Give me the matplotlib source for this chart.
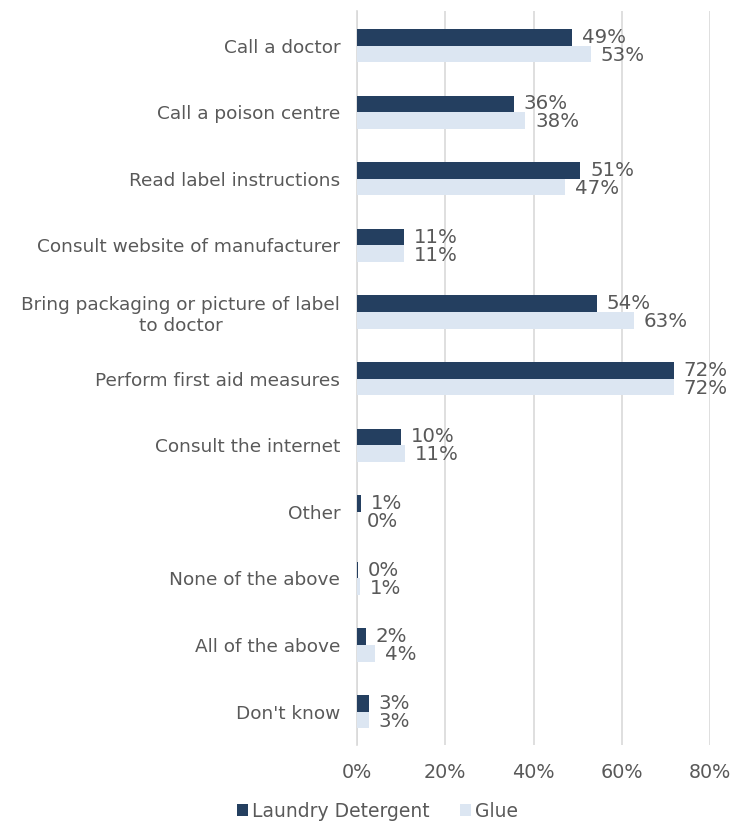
import matplotlib
matplotlib.use("Agg")
import matplotlib.pyplot as plt
import numpy as np
from matplotlib.patches import Patch

categories = [
    "Call a doctor",
    "Call a poison centre",
    "Read label instructions",
    "Consult website of manufacturer",
    "Bring packaging or picture of label\nto doctor",
    "Perform first aid measures",
    "Consult the internet",
    "Other",
    "None of the above",
    "All of the above",
    "Don't know",
]
laundry = [48.7, 35.6, 50.6, 10.7, 54.3, 71.7, 10.0, 0.9, 0.2, 2.0, 2.7]
glue = [53.0, 38.1, 47.2, 10.6, 62.8, 71.7, 10.9, 0.0, 0.7, 4.1, 2.7]
xticks = [0, 20, 40, 60, 80]
series_names = ["Laundry Detergent", "Glue"]

dark = "#243F60"
light = "#DCE6F2"
txt = "#595959"
grid = "#D9D9D9"

plt.rcParams['font.family'] = ['DejaVu Sans']

fig = plt.figure(figsize=(7.33, 8.21), dpi=100)
ax = fig.add_axes([0.487, 0.0926, 0.482, 0.894])

y = np.arange(len(categories))
h = 0.25
ax.barh(y - h / 2, laundry, height=h, color=dark, zorder=3)
ax.barh(y + h / 2, glue, height=h, color=light, zorder=3)

for yi, v in zip(y, laundry):
    ax.text(v + 2.2, yi - h / 2, f"{round(v):.0f}%", va="center", ha="left",
            fontsize=14.2, color=txt, zorder=4)
for yi, v in zip(y, glue):
    ax.text(v + 2.2, yi + h / 2 + 0.02, f"{round(v):.0f}%", va="center", ha="left",
            fontsize=14.2, color=txt, zorder=4)

ax.set_xlim(0, 80)
ax.set_ylim(len(categories) - 0.5, -0.52)
ax.set_yticks(y)
ax.set_yticklabels(categories, fontsize=13.3, color=txt, multialignment="center")
ax.set_xticks(xticks)
ax.set_xticklabels([f"{t}%" for t in xticks], fontsize=13.8, color=txt)
ax.tick_params(axis="both", length=0)
ax.tick_params(axis="y", pad=12)
ax.tick_params(axis="x", pad=13)
for s in ["top", "right", "bottom"]:
    ax.spines[s].set_visible(False)
ax.spines["left"].set_color(grid)
ax.spines["left"].set_linewidth(1.2)
ax.xaxis.grid(True, color=grid, linewidth=1.2, zorder=0)
ax.set_axisbelow(True)

handles = [Patch(facecolor=dark), Patch(facecolor=light)]
fig.legend(handles, series_names, loc="center", bbox_to_anchor=(0.515, 0.012),
           ncol=2, frameon=False, fontsize=13.5, labelcolor=txt,
           handlelength=0.6, handleheight=0.6, handletextpad=0.2, columnspacing=1.6)

fig.savefig("out.png", dpi=100)
